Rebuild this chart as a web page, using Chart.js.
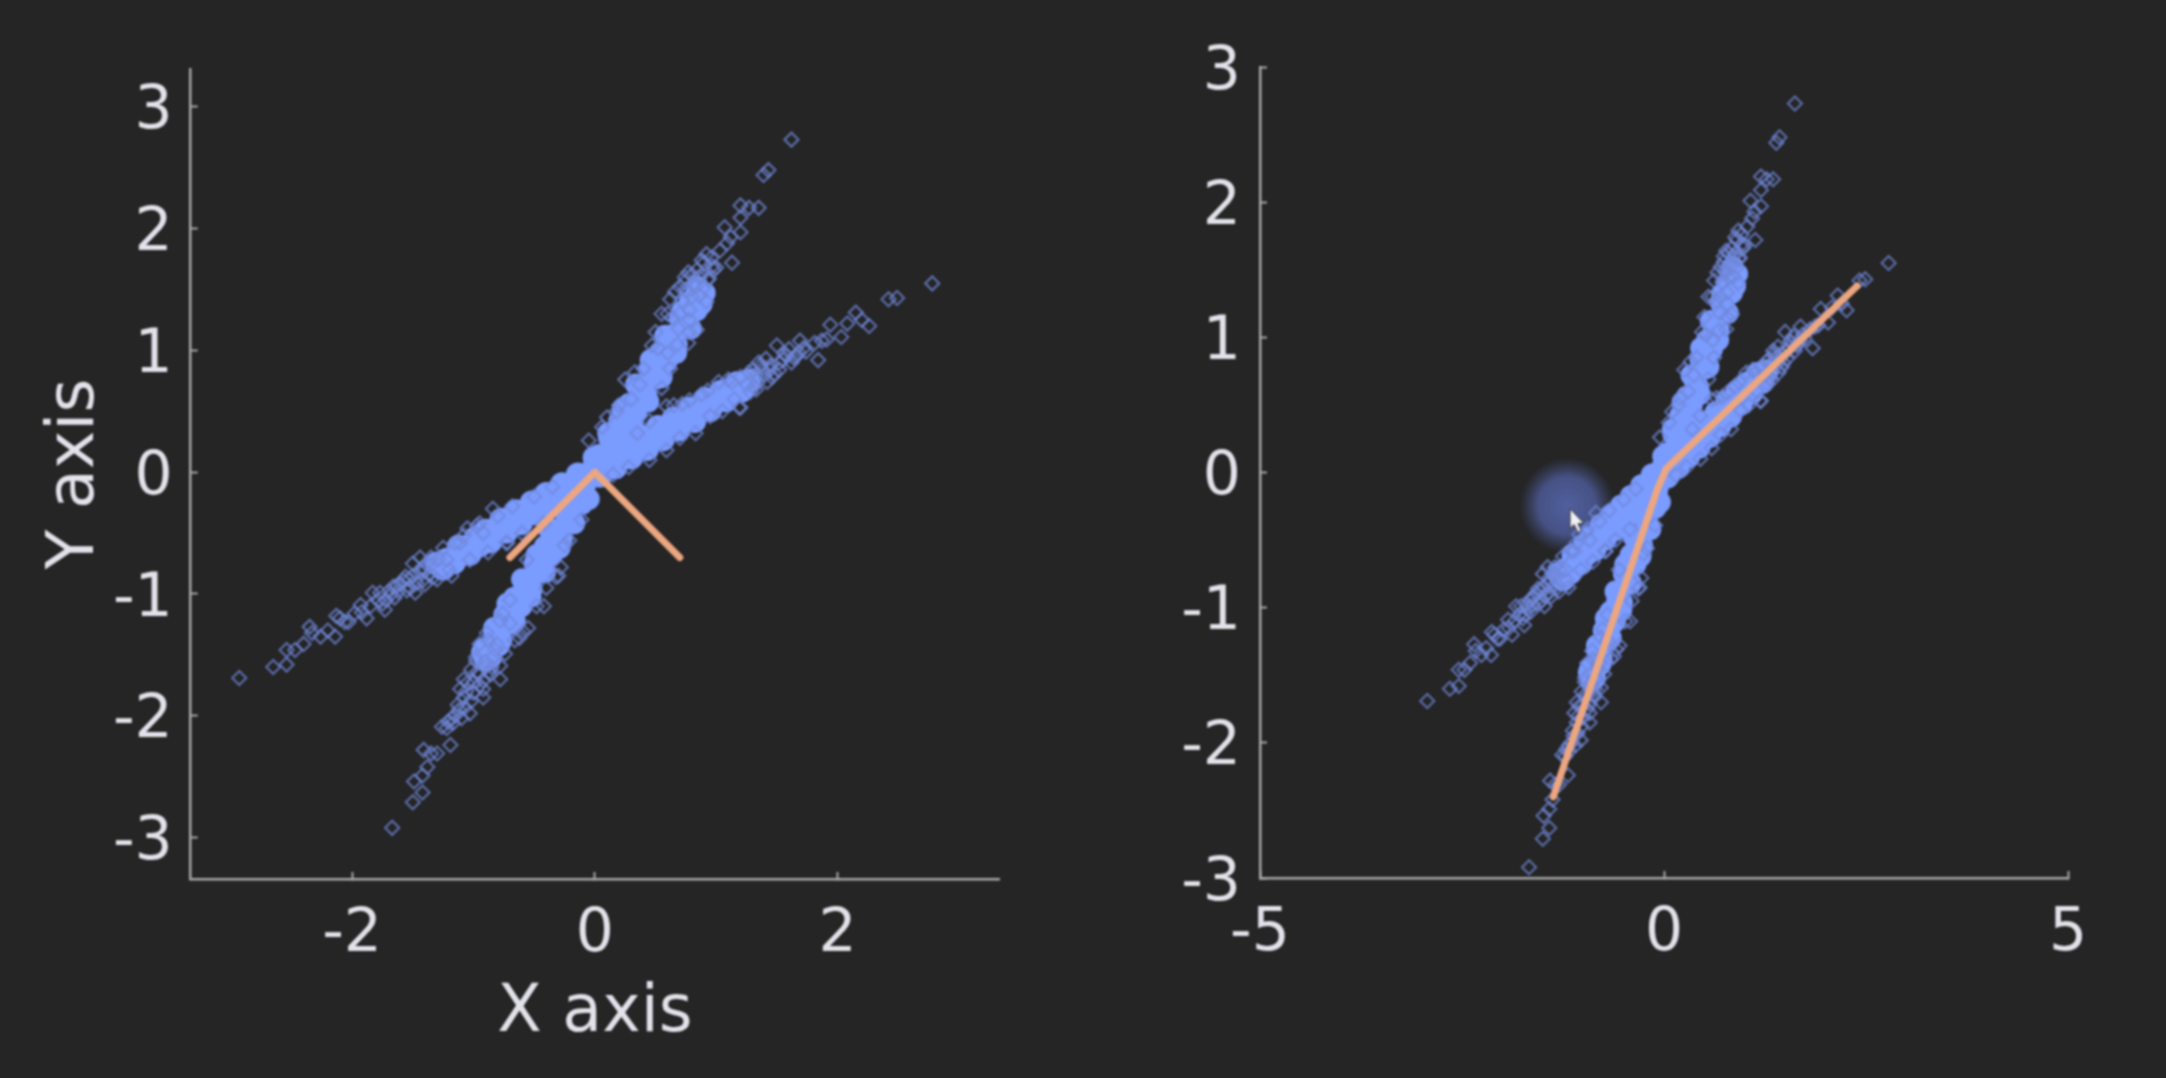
<!DOCTYPE html>
<html><head><meta charset="utf-8">
<style>
html,body{margin:0;padding:0;width:2166px;height:1078px;background:#252525;overflow:hidden}
canvas{position:absolute;top:0;filter:blur(0.8px)}
#left{left:0}#right{left:1083px}
</style>
<script src="https://cdn.jsdelivr.net/npm/chart.js@4"></script>
</head><body>
<canvas id="left" width="1083" height="1078"></canvas>
<canvas id="right" width="1083" height="1078"></canvas>
<script>
// Individually readable (open diamond) samples, steep arm
const steepX=[1.62,1.43,1.39,1.20,1.27,1.35,1.20,1.07,1.20,1.12,1.09,1.03,0.92,1.13,0.97,1.00,0.77,0.94,0.86,0.75,0.83,0.92,0.72,0.80,0.86,0.78,0.64,0.25,0.47,-0.05,0.06,0.77,0.84,0.55,0.50,0.55,0.62,0.70,0.78,0.68,-0.32,-0.56,-0.21,-0.11,-1.67,-1.50,-1.42,-1.49,-1.42,-1.38,-1.30,-1.41,-1.35,-1.19,-1.26,-1.22,-1.17,-1.21,-1.03,-1.13,-1.07,-1.11,-1.05,-0.92,-1.00,-0.97,-0.92,-0.87,-0.78,-0.95,-0.89,-0.74,-0.81,-0.59,-0.76,-0.66,-0.70,
 0.60,0.66,0.74,0.90,0.88,0.80,0.69,0.78,0.40,0.37,0.30,0.18,0.62,0.60,0.52,0.33,0.20,0.10,-0.28,-0.40,-0.48,-0.62,-0.25,-0.30,-0.42,-0.55,-0.70,-0.78,-0.88,-0.98,-1.02,-0.85,-0.78,-0.95,-1.08,-1.02,-0.90,-1.15,-1.10,
 0.93,0.98,0.84,0.90,0.96,0.70,0.76,0.82,0.74,0.88,-0.84,-0.90,-0.96,-1.00,-1.06,-0.82,-0.92,-1.12,-1.18,-1.08,-0.98,-0.86];
const steepY=[2.73,2.48,2.44,2.19,2.17,2.17,2.09,2.01,1.97,1.93,1.88,1.82,1.79,1.72,1.69,1.68,1.64,1.59,1.60,1.50,1.52,1.40,1.41,1.44,1.45,1.33,1.27,0.76,1.04,0.26,0.37,1.06,1.17,0.69,1.15,1.30,1.42,1.30,1.25,1.05,-0.86,-0.72,-0.56,-0.39,-2.92,-2.71,-2.63,-2.54,-2.49,-2.42,-2.31,-2.28,-2.31,-2.24,-2.09,-2.10,-2.06,-2.05,-1.98,-1.91,-1.93,-1.78,-1.73,-1.85,-1.81,-1.64,-1.71,-1.64,-1.59,-1.41,-1.32,-1.49,-1.41,-1.31,-1.16,-1.38,-1.24,
 1.30,1.48,1.56,1.52,1.62,1.62,1.18,1.15,0.85,0.72,0.60,0.50,0.85,0.98,1.02,0.82,0.55,0.45,-0.78,-0.95,-1.10,-1.36,-0.60,-0.85,-1.10,-1.28,-1.05,-1.22,-1.38,-1.55,-1.62,-1.60,-1.70,-1.75,-1.85,-1.88,-1.55,-2.00,-2.02,
 1.58,1.66,1.66,1.72,1.76,1.52,1.48,1.55,1.60,1.74,-1.52,-1.60,-1.66,-1.72,-1.80,-1.46,-1.78,-1.95,-2.02,-1.70,-1.52,-1.66];
// Individually readable (open diamond) samples, shallow arm
const shallowX=[2.78,2.49,2.42,2.15,2.08,2.20,2.26,1.94,2.03,1.91,1.87,1.81,1.69,1.84,1.74,1.68,1.64,1.50,1.58,1.62,1.41,1.52,1.48,1.35,1.42,1.30,1.20,1.31,1.13,1.20,0.93,0.59,0.65,0.78,1.19,0.83,0.59,-2.93,-2.65,-2.54,-2.54,-2.47,-2.40,-2.35,-2.33,-2.26,-2.14,-2.13,-2.06,-2.10,-2.03,-1.93,-1.88,-1.92,-1.83,-1.77,-1.73,-1.79,-1.65,-1.66,-1.55,-1.48,-1.58,-1.50,-1.44,-1.42,-1.33,-1.38,-1.25,-1.18,-1.22,-1.05,-1.03,-1.11,-0.84,-0.73,-0.92,-0.97,-0.72,
 1.33,1.38,1.45,1.55,1.25,1.10,1.02,0.88,0.72,0.45,0.35,0.95,1.05,1.15,1.28,0.70,0.45,0.28,0.15,-1.35,-1.42,-1.50,-1.60,-1.68,-1.72,-1.52,-1.40,-1.30,-1.20,-1.15,-1.08,-0.95,-0.80,-0.68,-0.50,-0.35,-1.85,-1.98,-2.20,-0.88,-0.60,-0.42,
 1.34,1.40,1.46,1.37,1.44,1.52,1.56,1.27,1.33,1.60,1.66,1.72,-1.36,-1.44,-1.53,-1.62,-1.47,-1.56,-1.63,-1.70,-1.34,-1.41,-1.29,-1.75];
const shallowY=[1.55,1.43,1.42,1.31,1.22,1.25,1.20,1.21,1.11,1.09,1.08,1.06,1.08,0.92,0.99,0.98,0.94,1.04,0.96,0.90,0.93,0.90,0.81,0.90,0.74,0.84,0.78,0.70,0.74,0.53,0.67,0.54,0.55,0.59,0.53,0.32,0.18,-1.69,-1.60,-1.58,-1.46,-1.46,-1.41,-1.27,-1.32,-1.35,-1.35,-1.18,-1.23,-1.20,-1.23,-1.09,-1.20,-1.15,-0.99,-0.99,-1.13,-1.05,-1.03,-0.94,-0.97,-0.99,-0.89,-0.75,-0.70,-0.89,-0.86,-0.75,-0.62,-0.85,-0.72,-0.46,-0.72,-0.58,-0.30,-0.58,-0.50,-0.44,-0.58,
 0.80,0.85,0.88,0.92,0.72,0.76,0.74,0.64,0.56,0.42,0.32,0.46,0.50,0.60,0.66,0.28,0.10,0.04,-0.02,-0.70,-0.78,-0.85,-0.92,-1.00,-1.05,-0.95,-0.92,-0.88,-0.80,-0.58,-0.52,-0.42,-0.36,-0.28,-0.20,-0.12,-1.10,-1.16,-1.30,-0.66,-0.50,-0.42,
 0.74,0.80,0.78,0.88,0.84,0.84,0.97,0.82,0.68,1.01,0.95,1.02,-0.84,-0.82,-0.88,-0.98,-0.91,-0.86,-0.93,-0.98,-0.75,-0.81,-0.72,-1.08];
// Saturated samples inside the dense part of each arm
const denseShallowX=[-1.30,-1.25,-1.22,-1.16,-1.12,-1.08,-1.03,-0.98,-0.95,-0.90,-0.86,-0.82,-0.77,-0.73,-0.70,-0.65,-0.61,-0.57,-0.52,-0.48,-0.44,-0.40,-0.35,-0.31,-0.27,-0.22,-0.18,-0.14,-0.09,-0.05,0,0.04,0.08,0.13,0.17,0.21,0.26,0.30,0.34,0.39,0.43,0.47,0.52,0.56,0.60,0.65,0.69,0.73,0.78,0.82,0.86,0.91,0.95,0.99,1.04,1.08,1.12,1.17,1.21,1.27];
const denseShallowY=[-0.75,-0.79,-0.72,-0.74,-0.61,-0.66,-0.67,-0.54,-0.60,-0.48,-0.57,-0.47,-0.39,-0.49,-0.39,-0.32,-0.42,-0.33,-0.25,-0.34,-0.24,-0.18,-0.27,-0.16,-0.10,-0.19,-0.10,-0.02,-0.11,-0.01,0.05,-0.03,0.07,0.14,0.04,0.13,0.21,0.12,0.22,0.29,0.19,0.29,0.37,0.27,0.36,0.44,0.35,0.45,0.52,0.42,0.52,0.60,0.51,0.60,0.66,0.59,0.68,0.73,0.67,0.75];
const denseSteepX=[-0.90,-0.93,-0.79,-0.80,-0.83,-0.66,-0.68,-0.72,-0.53,-0.58,-0.60,-0.41,-0.46,-0.48,-0.29,-0.33,-0.37,-0.17,-0.21,-0.25,-0.05,-0.09,-0.13,0.06,0.03,-0.01,0.19,0.15,0.11,0.31,0.27,0.23,0.44,0.39,0.34,0.55,0.51,0.46,0.67,0.63,0.58,0.79,0.74,0.72,0.88,0.83,0.85,
 -0.855,-0.913,-0.771,-0.83,-0.688,-0.746,-0.605,-0.663,-0.521,-0.58,-0.438,-0.496,-0.355,-0.413,-0.271,-0.33,-0.188,-0.246,-0.105,-0.163,0.09,0.033,0.175,0.117,0.258,0.20,0.342,0.283,0.425,0.367,0.508,0.45,0.592,0.533,0.675,0.617,0.758,0.70,0.84,0.783,0.905];
const denseSteepY=[-1.55,-1.48,-1.42,-1.35,-1.28,-1.22,-1.15,-1.08,-1.02,-0.95,-0.88,-0.82,-0.75,-0.68,-0.62,-0.55,-0.48,-0.42,-0.35,-0.28,-0.22,-0.15,-0.08,-0.02,0.05,0.12,0.18,0.25,0.32,0.38,0.45,0.52,0.58,0.65,0.72,0.78,0.85,0.92,0.98,1.05,1.12,1.18,1.25,1.32,1.38,1.45,1.52,
 -1.52,-1.45,-1.38,-1.31,-1.24,-1.17,-1.10,-1.03,-0.96,-0.89,-0.82,-0.75,-0.68,-0.61,-0.54,-0.47,-0.40,-0.33,-0.26,-0.19,0.07,0.14,0.21,0.28,0.35,0.42,0.49,0.56,0.63,0.70,0.77,0.84,0.91,0.98,1.05,1.12,1.19,1.26,1.33,1.40,1.47];
// Orange weight vectors
const leftLineX=[-0.70,0,0.70];
const leftLineY=[-0.70,0,-0.70];
const rightLineX=[-1.37,-0.08,0.03,2.39];
const rightLineY=[-2.40,-0.12,0.03,1.38];
// Axes
const leftXTicks=[-2,0,2];
const leftYTicks=[-3,-2,-1,0,1,2,3];
const rightXTicks=[-5,0,5];
const rightYTicks=[-3,-2,-1,0,1,2,3];
const xAxisLabel='X axis';
const yAxisLabel='Y axis';
const cursorAt=[-1.2,-0.245];

const zip=(a,b)=>a.map((v,i)=>({x:v,y:b[i]}));
const font='"DejaVu Sans"';
function axis(ticks,lim,pad,size,title,isX){
  return {type:'linear',min:lim[0],max:lim[1],
    afterBuildTicks:s=>{s.ticks=ticks.map(v=>({value:v}));},
    afterFit:s=>{if(isX)s.height=size;else s.width=size;},
    afterUpdate:s=>{ if(isX)return; const orig=s._computeLabelItems.bind(s);
      s._computeLabelItems=ca=>orig(ca).map(it=>({...it,options:{...it.options,translation:[it.options.translation[0],it.options.translation[1]+3]}}));},
    border:{color:'#a8a8a8',width:2.5},
    grid:{drawOnChartArea:false,color:'#a8a8a8',tickColor:'#a8a8a8',tickWidth:2,tickLength:-7},
    ticks:{color:'#e2e2ea',font:{family:font,size:60},padding:pad,autoSkip:false,maxRotation:0,minRotation:0,
      callback:v=>String(v)},
    title:title?{display:true,text:title,color:'#e2e2ea',font:{family:font,size:65},padding:isX?{top:0,bottom:25}:{top:37,bottom:0}}:{display:false}
  };
}
function datasets(lineX,lineY){
  return [
    {data:zip(lineX,lineY),showLine:true,borderColor:'#eca680',borderWidth:7,borderCapStyle:'round',borderJoinStyle:'round',pointRadius:0,order:0},
    {data:zip(steepX,steepY),pointStyle:'rectRot',pointRadius:7,borderWidth:2.2,borderColor:'rgba(112,136,218,0.72)',backgroundColor:'rgba(0,0,0,0)',showLine:false,order:1},
    {data:zip(shallowX,shallowY),pointStyle:'rectRot',pointRadius:7,borderWidth:2.2,borderColor:'rgba(112,136,218,0.72)',backgroundColor:'rgba(0,0,0,0)',showLine:false,order:1},
    {data:zip(denseSteepX,denseSteepY),pointStyle:'circle',pointRadius:11,borderWidth:0,backgroundColor:'#7a9bff',showLine:false,order:2},
    {data:zip(denseShallowX,denseShallowY),pointStyle:'circle',pointRadius:12,borderWidth:0,backgroundColor:'#7a9bff',showLine:false,order:2}
  ];
}
const cursorPlugin={id:'cursor',
  beforeDatasetsDraw(c){
    const x=c.scales.x.getPixelForValue(cursorAt[0]),y=c.scales.y.getPixelForValue(cursorAt[1]);
    const g=c.ctx.createRadialGradient(x,y,0,x,y,48);
    g.addColorStop(0,'rgba(88,106,182,0.85)');g.addColorStop(0.6,'rgba(84,100,170,0.72)');g.addColorStop(1,'rgba(70,85,140,0)');
    c.ctx.save();c.ctx.fillStyle=g;c.ctx.beginPath();c.ctx.arc(x,y,48,0,Math.PI*2);c.ctx.fill();c.ctx.restore();
  },
  afterDatasetsDraw(c){
    const x=c.scales.x.getPixelForValue(cursorAt[0])+3,y=c.scales.y.getPixelForValue(cursorAt[1])+3;
    const k=c.ctx;k.save();k.fillStyle='#f0f0f4';k.strokeStyle='#333';k.lineWidth=1;k.beginPath();
    k.moveTo(x,y);k.lineTo(x,y+20);k.lineTo(x+4,y+16);k.lineTo(x+8,y+24);k.lineTo(x+11,y+22);k.lineTo(x+8,y+15);k.lineTo(x+14,y+15);k.closePath();k.fill();k.stroke();k.restore();
  }};
const base={responsive:false,animation:false,plugins:{legend:{display:false},tooltip:{enabled:false}}};
new Chart(document.getElementById('left'),{type:'scatter',data:{datasets:datasets(leftLineX,leftLineY)},
  options:{...base,layout:{padding:{left:0,top:69,right:84,bottom:0}},scales:{
    x:axis(leftXTicks,[-3.33,3.33],27,199,xAxisLabel,true),
    y:axis(leftYTicks,[-3.34,3.31],25,190.7,yAxisLabel,false)}}});
new Chart(document.getElementById('right'),{type:'scatter',data:{datasets:datasets(rightLineX,rightLineY)},plugins:[cursorPlugin],
  options:{...base,layout:{padding:{left:0,top:67,right:98,bottom:0}},scales:{
    x:axis(rightXTicks,[-5,5],27,200,null,true),
    y:axis(rightYTicks,[-3,3],26,177,null,false)}}});
</script>
</body></html>
